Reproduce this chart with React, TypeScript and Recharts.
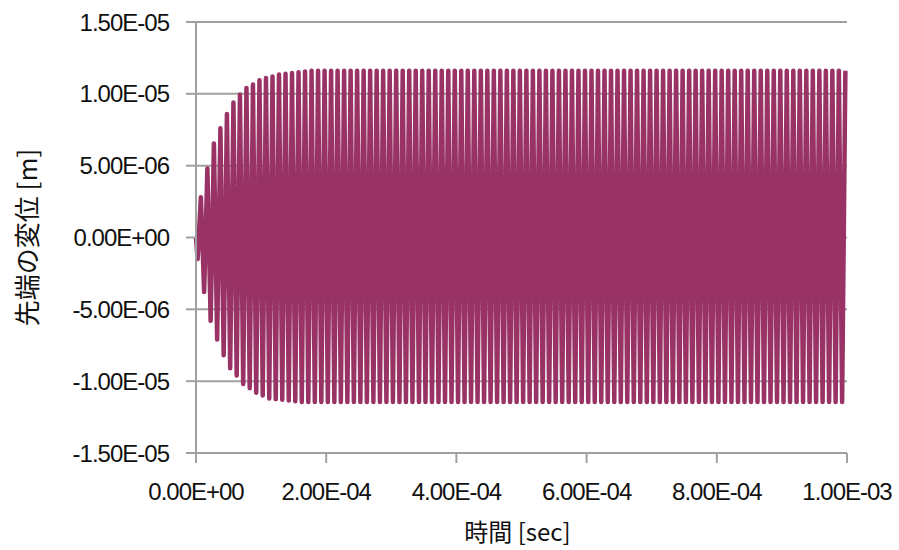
import React from "react";
import { LineChart, Line, XAxis, YAxis, CartesianGrid } from "recharts";

// tip displacement, one value per half cycle, in micrometres
const tipDisplacementUm = [
  0,
  -1.5, 2.8, -3.8, 4.8, -5.8, 6.55, -7.1, 7.6, -8.2, 8.6,
  -9.1, 9.4, -9.6, 9.95, -10.2, 10.4, -10.5, 10.65, -10.8, 10.95,
  -11.0, 11.1, -11.2, 11.2, -11.25, 11.35, -11.3, 11.4, -11.35, 11.45,
  -11.4, 11.5, -11.45, 11.55, -11.45, 11.6, -11.45, 11.6, -11.45, 11.6,
  -11.45, 11.6, -11.45, 11.6, -11.45, 11.6, -11.45, 11.6, -11.45, 11.6,
  -11.45, 11.6, -11.45, 11.6, -11.45, 11.6, -11.45, 11.6, -11.45, 11.6,
  -11.45, 11.6, -11.45, 11.6, -11.45, 11.6, -11.45, 11.6, -11.45, 11.6,
  -11.45, 11.6, -11.45, 11.6, -11.45, 11.6, -11.45, 11.6, -11.45, 11.6,
  -11.45, 11.6, -11.45, 11.6, -11.45, 11.6, -11.45, 11.6, -11.45, 11.6,
  -11.45, 11.6, -11.45, 11.6, -11.45, 11.6, -11.45, 11.6, -11.45, 11.6,
  -11.45, 11.6, -11.45, 11.6, -11.45, 11.6, -11.45, 11.6, -11.45, 11.6,
  -11.45, 11.6, -11.45, 11.6, -11.45, 11.6, -11.45, 11.6, -11.45, 11.6,
  -11.45, 11.6, -11.45, 11.6, -11.45, 11.6, -11.45, 11.6, -11.45, 11.6,
  -11.45, 11.6, -11.45, 11.6, -11.45, 11.6, -11.45, 11.6, -11.45, 11.6,
  -11.45, 11.6, -11.45, 11.6, -11.45, 11.6, -11.45, 11.6, -11.45, 11.6,
  -11.45, 11.6, -11.45, 11.6, -11.45, 11.6, -11.45, 11.6, -11.45, 11.6,
  -11.45, 11.6, -11.45, 11.6, -11.45, 11.6, -11.45, 11.6, -11.45, 11.6,
  -11.45, 11.6, -11.45, 11.6, -11.45, 11.6, -11.45, 11.6, -11.45, 11.6,
  -11.45, 11.6, -11.45, 11.6, -11.45, 11.6, -11.45, 11.6, -11.45, 11.6,
  -11.45, 11.6, -11.45, 11.6, -11.45, 11.6, -11.45, 11.6, -11.45, 11.6,
];

const firstPeakSec = 2.5e-6;
const halfPeriodSec = 5e-6;

const xTicks = [0, 2e-4, 4e-4, 6e-4, 8e-4, 1e-3];
const yTicks = [-1.5e-5, -1e-5, -5e-6, 0, 5e-6, 1e-5, 1.5e-5];

const data = tipDisplacementUm.map((um, i) => ({
  t: i === 0 ? 0 : firstPeakSec + (i - 1) * halfPeriodSec,
  y: um * 1e-6,
}));

// Excel style "0.00E+00"
const excelSci = (v: number) => {
  if (v === 0) return "0.00E+00";
  const [mant, exp] = v.toExponential(2).split("e");
  const n = parseInt(exp, 10);
  return `${mant}E${n < 0 ? "-" : "+"}${String(Math.abs(n)).padStart(2, "0")}`;
};

const axisGray = "#a0a0a0";
const tickFont = {
  fontFamily: '"Liberation Sans", Arial, sans-serif',
  fontSize: 24,
  letterSpacing: -1,
  fill: "#111",
};
const titleFont = '"Noto Sans CJK JP", sans-serif';

export default function App() {
  return (
    <div style={{ position: "absolute", left: 0, top: 0, width: 899, height: 550, background: "#fff" }}>
      <LineChart width={899} height={550} data={data} margin={{ top: 22, right: 52, left: 0, bottom: 0 }}>
        <CartesianGrid vertical={false} stroke={axisGray} strokeWidth={2} />
        <XAxis
          dataKey="t"
          type="number"
          domain={[0, 1e-3]}
          ticks={xTicks}
          interval={0}
          tickFormatter={excelSci}
          height={97}
          tickSize={10}
          tickMargin={20}
          stroke={axisGray}
          axisLine={{ stroke: axisGray, strokeWidth: 2 }}
          tickLine={{ stroke: axisGray, strokeWidth: 2 }}
          tick={tickFont}
          label={{
            value: "時間 [sec]",
            position: "insideBottom",
            offset: 9,
            dx: -4,
            fontFamily: titleFont,
            fontSize: 24,
            fill: "#111",
          }}
        />
        <YAxis
          type="number"
          domain={[-1.5e-5, 1.5e-5]}
          ticks={yTicks}
          interval={0}
          tickFormatter={excelSci}
          width={196}
          tickSize={10}
          tickMargin={17}
          stroke={axisGray}
          axisLine={{ stroke: axisGray, strokeWidth: 2 }}
          tickLine={{ stroke: axisGray, strokeWidth: 2 }}
          tick={tickFont}
          label={{
            value: "先端の変位 [m]",
            angle: -90,
            position: "insideLeft",
            offset: 28,
            textAnchor: "middle",
            fontFamily: titleFont,
            fontSize: 26,
            fill: "#111",
          }}
        />
        <Line
          type="linear"
          dataKey="y"
          stroke="#993366"
          strokeWidth={4.5}
          strokeLinejoin="round"
          dot={false}
          activeDot={false}
          isAnimationActive={false}
        />
      </LineChart>
    </div>
  );
}
